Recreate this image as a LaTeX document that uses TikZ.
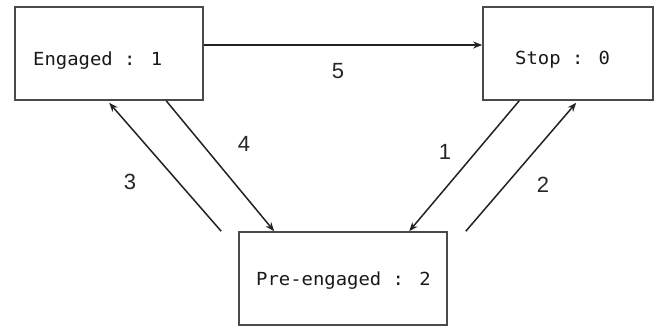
\documentclass[tikz,border=0pt]{standalone}
\usepackage{fontspec}
\setmainfont{Liberation Sans}
\newfontfamily\boxfont[FakeStretch=1.05]{DejaVu Sans Mono}
\usetikzlibrary{arrows.meta}
\definecolor{boxline}{HTML}{4A4A4A}
\definecolor{arrline}{HTML}{222222}
\tikzset{
  statebox/.style={draw=boxline, line width=1.6pt, rectangle, inner sep=0pt},
  statetext/.style={inner sep=0pt, anchor=base west, font=\boxfont\fontsize{18}{20}\selectfont, text=black!90},
  conn/.style={draw=arrline, line width=1.5pt, -{Stealth[length=9pt,width=7pt]}},
  numlabel/.style={inner sep=0pt, font=\fontsize{22}{24}\selectfont, text=black!85}
}
\begin{document}
\begin{tikzpicture}[x=1pt,y=-1pt]
\useasboundingbox (0,0) rectangle (662,327);
\node[statebox, minimum width=188pt, minimum height=93pt] (eng) at (109,53.5) {};
\node[statebox, minimum width=170pt, minimum height=93pt] (stop) at (568,53.5) {};
\node[statebox, minimum width=208pt, minimum height=93pt] (pre) at (343,278.5) {};
\node[statetext] (engT) at (33,65) {Engaged : 1};
\node[statetext] (stopT) at (515,64) {Stop : 0};
\node[statetext] (preT) at (256,285) {Pre-engaged : 2};
\draw[conn] ([yshift=8.5pt]eng.east) -- ([yshift=8.5pt]stop.west);
\draw[conn] ([xshift=-17pt]pre.north west) -- ([xshift=95pt,yshift=-2pt]eng.south west);
\draw[conn] ([xshift=152pt]eng.south west) -- ([xshift=36pt]pre.north west);
\draw[conn] ([xshift=37pt]stop.south west) -- ([xshift=171pt]pre.north west);
\draw[conn] ([xshift=18pt]pre.north east) -- ([xshift=94pt,yshift=-2pt]stop.south west);
\node[numlabel] (lab5) at (338,71) {5};
\node[numlabel] (lab4) at (244,144) {4};
\node[numlabel] (lab3) at (130,182) {3};
\node[numlabel] (lab1) at (445,152) {1};
\node[numlabel] (lab2) at (543,185) {2};
\end{tikzpicture}
\end{document}
